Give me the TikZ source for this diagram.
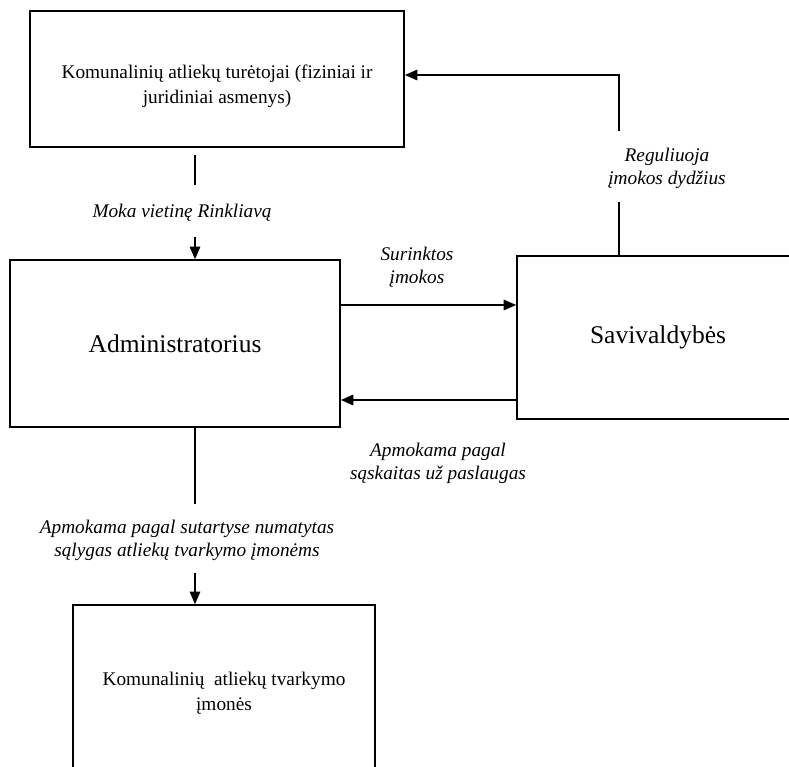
\documentclass[tikz,border=0pt]{standalone}
\usepackage{fontspec}
\setmainfont{Liberation Serif}
\usetikzlibrary{arrows.meta}
\begin{document}
\begin{tikzpicture}[x=1pt,y=-1pt,>={Triangle[length=12.5pt,width=10.5pt]},
    box/.style={draw,line width=1.6pt,rectangle,align=center,inner sep=0pt},
    boxtext/.style={font=\fontsize{19.3}{25}\selectfont},
    bigtext/.style={font=\fontsize{25.5}{30}\selectfont},
    lbl/.style={align=center,font=\fontsize{19.3}{23}\selectfont\itshape},
    conn/.style={line width=1.4pt}]
    \useasboundingbox (0,0) rectangle (789,767);

    \node [box,minimum width=374pt,minimum height=136pt](owners) at (217,79) {};
    \node [align=center,boxtext](ownerstext) at (217,86) {Komunalinių atliekų turėtojai (fiziniai ir\\juridiniai asmenys)};

    \node [box,bigtext,minimum width=330pt,minimum height=167pt](admin) at (175,343.5) {Administratorius};

    \node [box,bigtext,minimum width=282pt,minimum height=163pt](munis) at (658,337.5) {Savivaldybės};

    \node [box,minimum width=302pt,minimum height=170pt](companies) at (224,690) {};
    \node [align=center,boxtext](companiestext) at (224,693) {Komunalinių~ atliekų tvarkymo\\įmonės};

    \node [lbl](fee) at (182,213) {Moka vietinę Rinkliavą};
    \coordinate (feetop) at (195,155);
    \coordinate (feemid) at (195,185);
    \coordinate (feelow) at (195,237);
    \draw [conn] (feetop) -- (feemid);
    \draw [conn,->] (feelow) -- (feelow |- admin.north);

    \node [lbl](collected) at (417,267) {Surinktos\\įmokos};
    \draw [conn,->] ([yshift=38.5pt]admin.east) -- ([yshift=38.5pt]admin.east -| munis.west);

    \node [lbl](invoices) at (438,463) {Apmokama pagal\\sąskaitas už paslaugas};
    \draw [conn,->] ([yshift=-62.5pt]munis.west) -- ([yshift=-62.5pt]munis.west -| admin.east);

    \node [lbl](regulates) at (667,168) {Reguliuoja\\įmokos dydžius};
    \coordinate (regbot) at (619,202);
    \coordinate (regtop) at (619,131);
    \coordinate (regcorner) at (619,75);
    \draw [conn] ([xshift=-39pt]munis.north) -- (regbot);
    \draw [conn,->] (regtop) -- (regcorner) -- (regcorner -| owners.east);

    \node [lbl](contracts) at (187,540) {Apmokama pagal sutartyse numatytas\\sąlygas atliekų tvarkymo įmonėms};
    \coordinate (contop) at (195,504);
    \coordinate (conlow) at (195,573);
    \draw [conn] ([xshift=20pt]admin.south) -- (contop);
    \draw [conn,->] (conlow) -- (conlow |- companies.north);
\end{tikzpicture}
\end{document}
